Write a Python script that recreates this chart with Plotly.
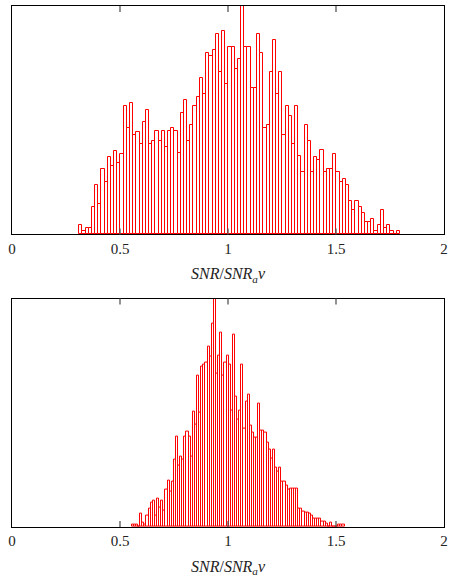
import numpy as np
import plotly.graph_objects as go

# ---------------- data ----------------
tick_values = [0, 0.5, 1, 1.5, 2]
tick_labels = ["0", "0.5", "1", "1.5", "2"]
x_title = "<i>SNR</i>/<i>SNR<sub>a</sub>v</i>"

top_bin_start = 0.311
top_bin_width = 0.0147
top_counts = [9, 3, 6, 6, 28, 50, 31, 66, 53, 78,
              69, 84, 72, 81, 129, 107, 132, 100, 103, 91,
              113, 125, 91, 94, 104, 94, 104, 88, 104, 107,
              104, 82, 122, 135, 94, 110, 129, 138, 157, 141,
              182, 179, 185, 201, 163, 204, 151, 188, 188, 166,
              176, 240, 188, 188, 147, 147, 201, 182, 107, 110,
              163, 195, 141, 163, 100, 129, 119, 91, 129, 79,
              63, 110, 94, 63, 78, 75, 85, 63, 66, 66,
              81, 63, 53, 56, 50, 34, 25, 34, 28, 22,
              12, 12, 15, 3, 9, 25, 6, 9, 3, 0, 3]

bottom_bin_start = 0.554
bottom_bin_width = 0.00976
bottom_counts = [2, 2, 2, 0, 13, 4, 2, 11, 18, 25,
                 27, 11, 29, 20, 27, 16, 38, 47, 36, 46,
                 68, 91, 62, 71, 68, 91, 96, 91, 71, 116,
                 103, 152, 115, 161, 163, 165, 181, 171, 204, 230,
                 154, 172, 195, 152, 165, 172, 163, 117, 193, 131,
                 108, 117, 163, 99, 126, 133, 102, 95, 90, 90,
                 124, 97, 97, 95, 85, 78, 69, 78, 60, 56,
                 60, 46, 46, 42, 38, 39, 39, 39, 39, 18,
                 18, 15, 14, 14, 13, 11, 8, 8, 8, 8,
                 5, 5, 3, 0, 4, 0, 0, 0, 2, 2, 2]

y_max = 229.5

# ---------------- figure ----------------
fig = go.Figure()

fig.add_trace(go.Bar(
    y=top_counts,
    x0=top_bin_start + top_bin_width / 2, dx=top_bin_width,
    width=top_bin_width,
    marker=dict(color="white", line=dict(color="red", width=1)),
    xaxis="x", yaxis="y", showlegend=False,
))
fig.add_trace(go.Bar(
    y=bottom_counts,
    x0=bottom_bin_start + bottom_bin_width / 2, dx=bottom_bin_width,
    width=bottom_bin_width,
    marker=dict(color="white", line=dict(color="red", width=1)),
    xaxis="x2", yaxis="y2", showlegend=False,
))

font_family = "Liberation Serif"

xaxis_common = dict(
    range=[0, 2], tickmode="array", tickvals=tick_values, ticktext=tick_labels,
    ticks="", showline=True, linecolor="black", linewidth=1.3, mirror=True,
    showgrid=False, zeroline=False,
    tickfont=dict(family=font_family, size=15, color="#222"),
    title=dict(text=x_title, font=dict(family=font_family, size=16, color="#222"),
               standoff=12),
)
yaxis_common = dict(
    range=[0, y_max], showticklabels=False, ticks="",
    showline=True, linecolor="black", linewidth=1.3, mirror=True,
    showgrid=False, zeroline=False,
)

# inside tick marks on top and bottom frame edges, placed at the tick values
tick_frac = 0.026
for xref, yref in (("x", "y domain"), ("x2", "y2 domain")):
    for tv in tick_values[1:-1]:
        for y0, y1 in ((0, tick_frac), (1 - tick_frac, 1)):
            fig.add_shape(type="line", xref=xref, yref=yref,
                          x0=tv, x1=tv, y0=y0, y1=y1,
                          line=dict(color="#555", width=1.3), layer="above")

fig.update_layout(
    width=453, height=577,
    margin=dict(l=12, r=5, t=5, b=49),
    paper_bgcolor="white", plot_bgcolor="white",
    bargap=0, barmode="overlay",
    font=dict(family=font_family),
    xaxis=dict(domain=[0, 1], anchor="y", **xaxis_common),
    yaxis=dict(domain=[0.5616, 1], anchor="x", **yaxis_common),
    xaxis2=dict(domain=[0, 1], anchor="y2", **xaxis_common),
    yaxis2=dict(domain=[0, 0.4384], anchor="x2", **yaxis_common),
)

fig.write_html(
    "out.html",
    config={"displayModeBar": False},
    post_script="document.body.style.margin='0';document.body.style.padding='0';",
)
